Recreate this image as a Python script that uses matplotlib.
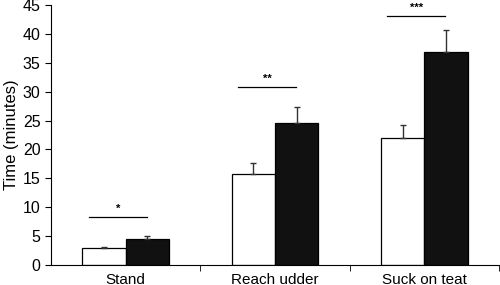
import matplotlib
matplotlib.use('Agg')
import matplotlib.pyplot as plt
import numpy as np

plt.rcParams['font.family'] = ['Liberation Sans', 'DejaVu Sans']

categories = ['Stand', 'Reach udder', 'Suck on teat']
white_vals = [3.0, 15.7, 22.0]
white_err = [0.05, 2.0, 2.2]
black_vals = [4.45, 24.5, 36.8]
black_err = [0.55, 2.9, 3.9]
sig_heights = [8.3, 30.8, 43.1]
sig_labels = ['*', '**', '***']

x = np.arange(len(categories))
w = 0.29

fig = plt.figure(figsize=(5, 2.85), dpi=100)
ax = fig.add_axes([0.102, 0.0702, 0.896, 0.9123])

ax.bar(x - w / 2, white_vals, w, color='white', edgecolor='black', linewidth=0.9,
       yerr=[np.zeros(3), white_err], error_kw=dict(ecolor='#333333', elinewidth=1, capsize=2, capthick=1))
ax.bar(x + w / 2, black_vals, w, color='#111111', edgecolor='black', linewidth=0.9,
       yerr=[np.zeros(3), black_err], error_kw=dict(ecolor='#333333', elinewidth=1, capsize=2, capthick=1))

for xi, h, s in zip(x, sig_heights, sig_labels):
    ax.plot([xi - 0.247, xi + 0.141], [h, h], color='black', linewidth=0.9)
    ax.text(xi - 0.053, h + 0.6, s, ha='center', va='bottom', fontsize=8, fontweight='bold')

ax.set_xlim(-0.5, 2.5)
ax.set_ylim(0, 45)
ax.set_yticks(range(0, 46, 5))
ax.set_xticks(x)
ax.set_xticklabels(categories, fontsize=11)
ax.set_xticks([0.5, 1.5, 2.5], minor=True)
ax.tick_params(axis='x', which='major', length=0, pad=6)
ax.tick_params(axis='x', which='minor', length=4, direction='out')
ax.tick_params(axis='y', labelsize=11.5, length=4, direction='out')
ax.set_ylabel('Time (minutes)', fontsize=12, labelpad=3)
ax.spines['top'].set_visible(False)
ax.spines['right'].set_visible(False)

fig.savefig('out.png', dpi=100)
